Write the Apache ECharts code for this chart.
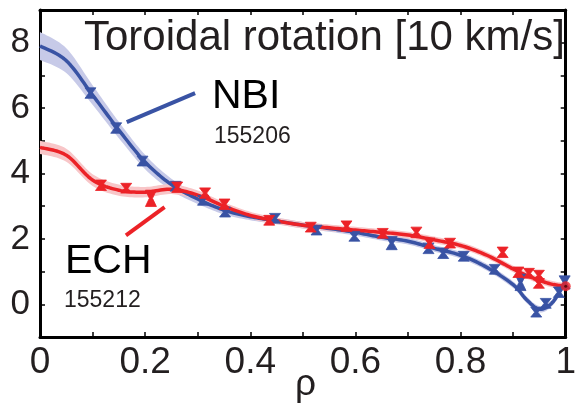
<!DOCTYPE html>
<html><head><meta charset="utf-8">
<script src="https://cdn.jsdelivr.net/npm/echarts@6/dist/echarts.min.js"></script>
<style>html,body{margin:0;padding:0;background:#fff}#c{width:579px;height:408px}</style>
</head><body><div id="c"></div>
<script>
// ---- data ----
const rhoFit = [0,0.05,0.1,0.15,0.2,0.25,0.3,0.35,0.4,0.45,0.5,0.55,0.6,0.65,0.7,0.75,0.8,0.85,0.9,0.925,0.95,0.975,1.0];
const nbiFit = [7.9,7.45,6.4,5.33,4.35,3.66,3.22,2.88,2.68,2.55,2.42,2.32,2.2,2.05,1.93,1.71,1.5,1.13,0.6,0.15,-0.15,0.06,0.7];
const nbiBand = [0.43,0.38,0.3,0.25,0.22,0.18,0.15,0.13,0.11,0.1,0.1,0.1,0.1,0.1,0.1,0.1,0.1,0.1,0.1,0.1,0.1,0.1,0.1];
const echFit = [4.8,4.56,3.8,3.49,3.43,3.52,3.34,3.0,2.72,2.55,2.42,2.34,2.27,2.2,2.12,1.97,1.8,1.5,1.08,0.89,0.73,0.61,0.55];
const echBand = [0.2,0.2,0.18,0.17,0.16,0.15,0.14,0.12,0.11,0.1,0.1,0.1,0.1,0.1,0.1,0.1,0.1,0.1,0.1,0.1,0.1,0.1,0.1];

const nbiRho = [0.096,0.145,0.195,0.258,0.31,0.352,0.447,0.526,0.598,0.669,0.739,0.767,0.806,0.865,0.914,0.944,0.962,0.987,0.998];
const nbiVal = [6.46,5.39,4.38,3.61,3.18,2.82,2.63,2.27,2.08,1.87,1.71,1.56,1.47,1.07,0.67,-0.24,0.03,0.37,0.67];
const nbiErr = [0.16,0.16,0.15,0.15,0.15,0.15,0.15,0.15,0.15,0.2,0.16,0.16,0.15,0.15,0.25,0.15,0.15,0.16,0.2];

const echRho = [0.116,0.164,0.211,0.261,0.314,0.351,0.436,0.515,0.583,0.652,0.716,0.741,0.78,0.88,0.91,0.93,0.949,0.949];
const echVal = [3.64,3.55,3.24,3.58,3.40,3.06,2.57,2.36,2.39,2.17,2.2,1.87,1.87,1.59,0.98,0.95,0.89,0.64];
const echErr = [0.16,0.15,0.25,0.16,0.16,0.16,0.15,0.15,0.16,0.15,0.16,0.16,0.15,0.16,0.16,0.15,0.15,0.15];

const xTicks = ['0','0.2','0.4','0.6','0.8','1'];
const yTicks = ['0','2','4','6','8'];

const BLUE = '#3953a4', RED = '#ec2227';
const BLUE_BAND = '#c7cae8', RED_BAND = '#f8c6c8';
const TXT = '#231f20';
const FONT = '"Liberation Sans", Arial, Helvetica, sans-serif';

// Catmull-Rom smoothing in pixel space (rendering only)
function spline(pts, sub){
  const out = [];
  const n = pts.length;
  for (let i = 0; i < n-1; i++){
    const p0 = pts[Math.max(i-1,0)], p1 = pts[i], p2 = pts[i+1], p3 = pts[Math.min(i+2,n-1)];
    for (let s = 0; s < sub; s++){
      const t = s/sub, t2 = t*t, t3 = t2*t;
      const f = (a,b,c,d)=>0.5*((2*b)+(-a+c)*t+(2*a-5*b+4*c-d)*t2+(-a+3*b-3*c+d)*t3);
      out.push([f(p0[0],p1[0],p2[0],p3[0]), f(p0[1],p1[1],p2[1],p3[1])]);
    }
  }
  out.push(pts[n-1].slice());
  return out;
}

function bandSeries(fit, hw, color, z){
  return {
    type:'custom', z:z, silent:true, data:[0],
    renderItem: function(params, api){
      const up = spline(rhoFit.map((x,i)=>api.coord([x, fit[i]+hw[i]])), 12);
      const lo = spline(rhoFit.map((x,i)=>api.coord([x, fit[i]-hw[i]])), 12);
      return {type:'polygon', shape:{points: up.concat(lo.reverse())}, style:{fill:color}};
    }
  };
}

function fitSeries(fit, color, z){
  return {
    type:'custom', z:z, silent:true, data:[0],
    renderItem: function(params, api){
      const pts = spline(rhoFit.map((x,i)=>api.coord([x, fit[i]])), 12);
      return {type:'polyline', shape:{points: pts}, style:{stroke:color, lineWidth:3.5, fill:null, lineJoin:'round'}};
    }
  };
}

function errSeries(xs, ys, es, color, z){
  return {
    type:'custom', z:z, silent:true,
    data: xs.map((x,i)=>[x, ys[i], es[i]]),
    renderItem: function(params, api){
      const x = api.value(0), y = api.value(1), e = api.value(2);
      const top = api.coord([x, y+e]);
      const bot = api.coord([x, y-e]);
      const c = api.coord([x, y]);
      const w = 5.5, n = 1.6;
      return {
        type:'polygon',
        shape:{points:[[c[0]-w, top[1]],[c[0]+w, top[1]],[c[0]+n, c[1]],[c[0]+w, bot[1]],[c[0]-w, bot[1]],[c[0]-n, c[1]]]},
        style:{fill:color, stroke:color, lineWidth:0.8}
      };
    }
  };
}

const chart = echarts.init(document.getElementById('c'), null, {renderer:'canvas'});

const xFmt = v => { const k = Math.round(v*10); return k%2===0 ? xTicks[k/2] : ''; };
const yFmt = v => { const k = Math.round(v); return (k>=0 && k%2===0) ? yTicks[k/2] : ''; };

const axisCommon = {
  axisLine:{show:true, onZero:false, lineStyle:{color:'#000', width:3}},
  axisTick:{show:true, inside:true, length:5, lineStyle:{color:'#000', width:1.5}},
  splitLine:{show:false}
};

chart.setOption({
  animation:false,
  backgroundColor:'#fff',
  grid:{left:40, right:7, top:10, bottom:71, containLabel:false},
  xAxis:[
    Object.assign({type:'value', min:0, max:1, interval:0.1, position:'bottom',
      axisLabel:{show:true, formatter:xFmt, fontSize:37, color:TXT, fontFamily:FONT, margin:7, showMinLabel:true, showMaxLabel:true}}, axisCommon),
    Object.assign({type:'value', min:0, max:1, interval:0.1, position:'top', axisLabel:{show:false}}, axisCommon)
  ],
  yAxis:[
    Object.assign({type:'value', min:-1, max:9, interval:1, position:'left',
      axisLabel:{show:true, formatter:yFmt, fontSize:35, color:TXT, fontFamily:FONT, margin:10}}, axisCommon),
    Object.assign({type:'value', min:-1, max:9, interval:1, position:'right', axisLabel:{show:false}}, axisCommon)
  ],
  series:[
    bandSeries(nbiFit, nbiBand, BLUE_BAND, 1),
    bandSeries(echFit, echBand, RED_BAND, 2),
    fitSeries(nbiFit, BLUE, 3),
    fitSeries(echFit, RED, 4),
    {type:'line', data:[], symbol:'none', z:3,
     markLine:{silent:true, symbol:'none', lineStyle:{color:BLUE, width:4, type:'solid'}, label:{show:false},
       data:[[{coord:[0.165,5.57]},{coord:[0.295,6.46]}]]}},
    {type:'line', data:[], symbol:'none', z:4,
     markLine:{silent:true, symbol:'none', lineStyle:{color:RED, width:4, type:'solid'}, label:{show:false},
       data:[[{coord:[0.1635,2.11]},{coord:[0.237,2.97]}]]}},
    errSeries(nbiRho, nbiVal, nbiErr, BLUE, 5),
    errSeries(echRho, echVal, echErr, RED, 6),
    {type:'scatter', data:[[1.0, echFit[echFit.length-1]]], symbol:'circle', symbolSize:10,
     itemStyle:{color:RED}, z:7, silent:true, clip:false},
    {type:'scatter', data:[[1.0, echFit[echFit.length-1]]], symbol:'circle', symbolSize:3,
     itemStyle:{color:'#400'}, z:8, silent:true, clip:false}
  ],
  graphic:[
    {type:'text', left:84, top:17, z:100, style:{text:'Toroidal rotation [10 km/s]', font:'42px '+FONT, fill:TXT}},
    {type:'text', left:212, top:76, z:100, style:{text:'NBI', font:'41px '+FONT, fill:'#000'}},
    {type:'text', left:214, top:125, z:100, style:{text:'155206', font:'23px '+FONT, fill:TXT}},
    {type:'text', left:65, top:241, z:100, style:{text:'ECH', font:'41px '+FONT, fill:'#000'}},
    {type:'text', left:64, top:289, z:100, style:{text:'155212', font:'23px '+FONT, fill:TXT}},
    {type:'text', left:295, top:366, z:100, style:{text:'ρ', font:'37px '+FONT, fill:TXT}}
  ]
});
</script></body></html>
